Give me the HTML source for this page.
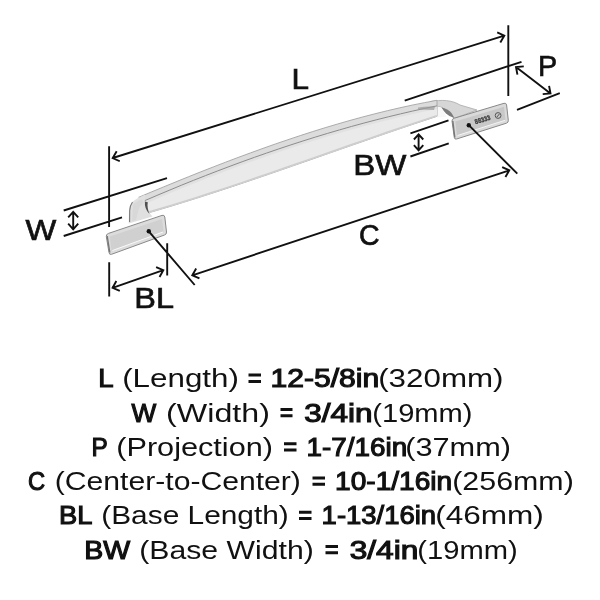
<!DOCTYPE html>
<html><head><meta charset="utf-8">
<style>
html,body{margin:0;padding:0;background:#fff;width:600px;height:600px;overflow:hidden}
svg{display:block;position:absolute;left:0;top:0;will-change:transform}
.b{font-family:"Liberation Sans",sans-serif;font-weight:bold;fill:#111}
.r{font-family:"Liberation Sans",sans-serif;font-weight:normal;fill:#111}
</style></head><body>
<svg width="600" height="600" viewBox="0 0 600 600">
<path d="M430,101.6 C442,99.5 452,100 460,105 L477,110 L454,118.5 Q448,110.5 442,107.5 L436,106 Z" fill="#d6d6d6" stroke="#a8a8a8" stroke-width="0.8"/>
<path d="M441,107.3 Q448,109 451.5,113 L454.5,118 Q449,116.5 446,113.5 Q443,110.5 441,107.3 Z" fill="#7c7c7c"/>
<path d="M436,106.2 L441.5,107.4 Q444,112 446.5,117 L437,117.5 Z" fill="#f8f8f8"/>
<path d="M138.7,197.30 L151.1,192.09 L163.6,186.92 L176.0,181.82 L188.4,176.79 L200.8,171.83 L213.3,166.95 L225.7,162.16 L238.1,157.46 L250.6,152.86 L263.0,148.36 L275.4,143.98 L287.9,139.72 L300.3,135.59 L312.7,131.59 L325.1,127.73 L337.6,124.01 L350.0,120.44 L362.4,117.04 L374.9,113.80 L387.3,110.73 L399.7,107.84 L412.1,105.14 L424.6,102.63 L437.0,100.31 L437,105.85 L437,116.33 L437.0,116.33 L425.0,120.30 L412.9,124.31 L400.9,128.38 L388.8,132.49 L376.8,136.63 L364.8,140.80 L352.7,144.99 L340.7,149.19 L328.6,153.41 L316.6,157.62 L304.5,161.83 L292.5,166.03 L280.5,170.21 L268.4,174.36 L256.4,178.48 L244.3,182.56 L232.3,186.59 L220.2,190.57 L208.2,194.49 L196.2,198.35 L184.1,202.14 L172.1,205.84 L160.0,209.46 L148.0,212.98 L144.7,200.67 Z" fill="#dcdcdc" stroke="#a4a4a4" stroke-width="0.9"/>
<path d="M144.7,200.67 L156.9,195.45 L169.1,190.33 L181.2,185.31 L193.4,180.40 L205.6,175.58 L217.8,170.87 L230.0,166.26 L242.1,161.77 L254.3,157.38 L266.5,153.10 L278.7,148.94 L290.9,144.89 L303.0,140.96 L315.2,137.14 L327.4,133.45 L339.6,129.87 L351.7,126.42 L363.9,123.09 L376.1,119.89 L388.3,116.82 L400.5,113.88 L412.6,111.07 L424.8,108.39 L437.0,105.85 L437,116.33 L437.0,116.33 L425.0,120.30 L412.9,124.31 L400.9,128.38 L388.8,132.49 L376.8,136.63 L364.8,140.80 L352.7,144.99 L340.7,149.19 L328.6,153.41 L316.6,157.62 L304.5,161.83 L292.5,166.03 L280.5,170.21 L268.4,174.36 L256.4,178.48 L244.3,182.56 L232.3,186.59 L220.2,190.57 L208.2,194.49 L196.2,198.35 L184.1,202.14 L172.1,205.84 L160.0,209.46 L148.0,212.98 Z" fill="#eaeaea"/>
<clipPath id="fc"><path d="M144.7,200.67 L156.9,195.45 L169.1,190.33 L181.2,185.31 L193.4,180.40 L205.6,175.58 L217.8,170.87 L230.0,166.26 L242.1,161.77 L254.3,157.38 L266.5,153.10 L278.7,148.94 L290.9,144.89 L303.0,140.96 L315.2,137.14 L327.4,133.45 L339.6,129.87 L351.7,126.42 L363.9,123.09 L376.1,119.89 L388.3,116.82 L400.5,113.88 L412.6,111.07 L424.8,108.39 L437.0,105.85 L437,116.33 L437.0,116.33 L425.0,120.30 L412.9,124.31 L400.9,128.38 L388.8,132.49 L376.8,136.63 L364.8,140.80 L352.7,144.99 L340.7,149.19 L328.6,153.41 L316.6,157.62 L304.5,161.83 L292.5,166.03 L280.5,170.21 L268.4,174.36 L256.4,178.48 L244.3,182.56 L232.3,186.59 L220.2,190.57 L208.2,194.49 L196.2,198.35 L184.1,202.14 L172.1,205.84 L160.0,209.46 L148.0,212.98 Z"/></clipPath>
<path d="M144.7,200.67 L156.9,195.45 L169.1,190.33 L181.2,185.31 L193.4,180.40 L205.6,175.58 L217.8,170.87 L230.0,166.26 L242.1,161.77 L254.3,157.38 L266.5,153.10 L278.7,148.94 L290.9,144.89 L303.0,140.96 L315.2,137.14 L327.4,133.45 L339.6,129.87 L351.7,126.42 L363.9,123.09 L376.1,119.89 L388.3,116.82 L400.5,113.88 L412.6,111.07 L424.8,108.39 L437.0,105.85 " fill="none" stroke="#dedede" stroke-width="6" clip-path="url(#fc)" opacity="0.8"/>
<path d="M437.0,116.33 L425.0,120.30 L412.9,124.31 L400.9,128.38 L388.8,132.49 L376.8,136.63 L364.8,140.80 L352.7,144.99 L340.7,149.19 L328.6,153.41 L316.6,157.62 L304.5,161.83 L292.5,166.03 L280.5,170.21 L268.4,174.36 L256.4,178.48 L244.3,182.56 L232.3,186.59 L220.2,190.57 L208.2,194.49 L196.2,198.35 L184.1,202.14 L172.1,205.84 L160.0,209.46 L148.0,212.98 " fill="none" stroke="#cdcdcd" stroke-width="3" clip-path="url(#fc)"/>
<path d="M144.7,200.67 L156.9,195.45 L169.1,190.33 L181.2,185.31 L193.4,180.40 L205.6,175.58 L217.8,170.87 L230.0,166.26 L242.1,161.77 L254.3,157.38 L266.5,153.10 L278.7,148.94 L290.9,144.89 L303.0,140.96 L315.2,137.14 L327.4,133.45 L339.6,129.87 L351.7,126.42 L363.9,123.09 L376.1,119.89 L388.3,116.82 L400.5,113.88 L412.6,111.07 L424.8,108.39 L437.0,105.85 " fill="none" stroke="#8c8c8c" stroke-width="1"/>
<path d="M418,107.5 Q428,106 435,106.8 L434,110 Q426,109.5 418,109.5 Z" fill="#9a9a9a" opacity="0.7"/>
<path d="M128.7,223.5 L129,210.3 Q129.8,202.5 137.5,198.2 L145.0,194.65 L144.7,201.7 Q146,210 152.5,216.5 Z" fill="#e0e0e0"/>
<path d="M129.6,222 L129.7,210.5 Q130.2,205 132.5,202" fill="none" stroke="#777" stroke-width="1.1"/>
<path d="M144.9,201.5 Q144.3,209 149.5,214 Q146.8,207 147.8,202.2 Z" fill="#505050"/>
<path d="M133,205 Q136,201 142,199.5 L143.5,203 Q140,204.5 138,212 L136,220 L132,221 Z" fill="#d2d2d2" opacity="0.6"/>
<!-- left plate -->
<path d="M108.5,233.4 L162,215.4 Q164.4,214.6 164.8,217 L166.5,232 Q166.8,234.3 164.5,235 L111.5,254.3 Q109.3,255 109,252.6 L106.3,236.5 Q106,234.2 108.5,233.4 Z" fill="#dcdcdc" stroke="#888" stroke-width="1"/>
<path d="M109.8,236.5 L162,219 L163.6,232 L111.5,250.8 Z" fill="#d0d0d0"/>
<path d="M112.5,250.5 L163,232" stroke="#fafafa" stroke-width="1" fill="none"/>
<path d="M107.2,236 L109.8,252.5" stroke="#777" stroke-width="1.4" fill="none"/>
<circle cx="148.8" cy="231.3" r="2.2" fill="#111"/>
<!-- right plate -->
<path d="M454.3,118.2 L504,103.3 Q506.2,102.7 506.6,105 L508.3,120.3 Q508.6,122.5 506.4,123.2 L456.6,139 Q454.6,139.6 454.3,137.5 L452,121 Q451.8,118.9 454.3,118.2 Z" fill="#dadada" stroke="#888" stroke-width="1"/>
<path d="M455.3,121.6 L504,106.7 L505.5,120.2 L457,135.6 Z" fill="#c8c8c8"/>
<path d="M457.5,135.5 L505,120.3" stroke="#f4f4f4" stroke-width="1" fill="none"/>
<path d="M452.8,121 L454.8,137.5" stroke="#777" stroke-width="1.4" fill="none"/>
<circle cx="468.8" cy="125.2" r="2.2" fill="#111"/>
<text x="0" y="0" transform="translate(475.6,124.3) rotate(-17)" font-family="Liberation Sans" font-weight="bold" font-size="6.8" fill="#3e3e3e" stroke="#3e3e3e" stroke-width="0.35" textLength="16" lengthAdjust="spacingAndGlyphs">88333</text>
<circle cx="498.1" cy="115.5" r="2.9" fill="none" stroke="#555" stroke-width="1"/>
<path d="M496.9,117 L499.4,114" stroke="#555" stroke-width="1"/>
<path d="M112.70,158.00 L504.30,35.70 M119.79,161.25 L112.70,158.00 L116.68,151.29 M497.21,32.45 L504.30,35.70 L500.32,42.41 M109.10,146.30 L109.10,227.00 M109.20,262.20 L109.20,296.60 M508.30,25.30 L508.30,96.00 M63.70,210.50 L167.00,178.20 M63.70,236.00 L122.00,217.40 M73.20,211.80 L73.20,229.30 M68.18,217.37 L73.20,211.80 L78.22,217.37 M78.22,223.73 L73.20,229.30 L68.18,223.73 M404.70,100.60 L521.50,61.80 M517.00,109.80 L559.80,93.20 M516.00,67.00 L550.50,93.50 M517.42,74.67 L516.00,67.00 L523.78,66.39 M549.08,85.83 L550.50,93.50 L542.72,94.11 M410.40,133.30 L448.50,120.40 M410.40,156.50 L448.75,143.30 M418.60,134.30 L418.60,150.40 M413.92,139.50 L418.60,134.30 L423.28,139.50 M423.28,145.20 L418.60,150.40 L413.92,145.20 M192.30,275.30 L509.30,170.30 M199.44,278.43 L192.30,275.30 L196.16,268.52 M502.16,167.17 L509.30,170.30 L505.44,177.08 M148.80,231.30 L194.70,285.00 M468.80,125.20 L517.30,173.70 M167.20,243.30 L167.20,275.60 M112.60,287.80 L163.30,270.10 M119.79,290.82 L112.60,287.80 L116.35,280.96 M156.11,267.08 L163.30,270.10 L159.55,276.94 " fill="none" stroke="#111" stroke-width="1.9" stroke-linejoin="miter" stroke-linecap="butt"/>
<text class="r" x="291.40" y="89.2" font-size="30" stroke="#111" stroke-width="0.7" textLength="17.52" lengthAdjust="spacingAndGlyphs">L</text>
<text class="r" x="537.89" y="75.9" font-size="30" stroke="#111" stroke-width="0.7" textLength="19.12" lengthAdjust="spacingAndGlyphs">P</text>
<text class="r" x="25.47" y="240.3" font-size="30" stroke="#111" stroke-width="0.7" textLength="30.77" lengthAdjust="spacingAndGlyphs">W</text>
<text class="r" x="353.31" y="175.4" font-size="30" stroke="#111" stroke-width="0.7" textLength="53.03" lengthAdjust="spacingAndGlyphs">BW</text>
<text class="r" x="359.05" y="245.2" font-size="30" stroke="#111" stroke-width="0.7" textLength="20.59" lengthAdjust="spacingAndGlyphs">C</text>
<text class="r" x="134.34" y="308.3" font-size="30" stroke="#111" stroke-width="0.7" textLength="39.73" lengthAdjust="spacingAndGlyphs">BL</text>
<text class="r" x="98.36" y="387.2" font-size="25.2" stroke="#111" stroke-width="1.1" textLength="15.33" lengthAdjust="spacingAndGlyphs">L</text>
<text class="r" x="122.19" y="387.2" font-size="26" textLength="116.73" lengthAdjust="spacingAndGlyphs">(Length)</text>
<path d="M248.50,373.60 h12.50 v3 h-12.50 Z M248.50,379.90 h12.50 v3 h-12.50 Z" fill="#111"/>
<text class="r" x="270.51" y="387.2" font-size="25.2" stroke="#111" stroke-width="1.1" textLength="108.72" lengthAdjust="spacingAndGlyphs">12-5/8in</text>
<text class="r" x="378.19" y="387.2" font-size="26" textLength="125.33" lengthAdjust="spacingAndGlyphs">(320mm)</text>
<text class="r" x="131.52" y="421.5" font-size="25.2" stroke="#111" stroke-width="1.1" textLength="24.73" lengthAdjust="spacingAndGlyphs">W</text>
<text class="r" x="166.14" y="421.5" font-size="26" textLength="103.75" lengthAdjust="spacingAndGlyphs">(Width)</text>
<path d="M280.50,407.90 h12.00 v3 h-12.00 Z M280.50,414.20 h12.00 v3 h-12.00 Z" fill="#111"/>
<text class="r" x="304.19" y="421.5" font-size="25.2" stroke="#111" stroke-width="1.1" textLength="68.22" lengthAdjust="spacingAndGlyphs">3/4in</text>
<text class="r" x="372.32" y="421.5" font-size="26" textLength="100.23" lengthAdjust="spacingAndGlyphs">(19mm)</text>
<text class="r" x="91.55" y="455.8" font-size="25.2" stroke="#111" stroke-width="1.1" textLength="16.23" lengthAdjust="spacingAndGlyphs">P</text>
<text class="r" x="116.23" y="455.8" font-size="26" textLength="156.76" lengthAdjust="spacingAndGlyphs">(Projection)</text>
<path d="M284.00,442.20 h12.50 v3 h-12.50 Z M284.00,448.50 h12.50 v3 h-12.50 Z" fill="#111"/>
<text class="r" x="306.62" y="455.8" font-size="25.2" stroke="#111" stroke-width="1.1" textLength="100.52" lengthAdjust="spacingAndGlyphs">1-7/16in</text>
<text class="r" x="405.23" y="455.8" font-size="26" textLength="105.82" lengthAdjust="spacingAndGlyphs">(37mm)</text>
<text class="r" x="28.10" y="490.1" font-size="25.2" stroke="#111" stroke-width="1.1" textLength="17.10" lengthAdjust="spacingAndGlyphs">C</text>
<text class="r" x="54.76" y="490.1" font-size="26" textLength="246.16" lengthAdjust="spacingAndGlyphs">(Center-to-Center)</text>
<path d="M312.50,476.50 h12.50 v3 h-12.50 Z M312.50,482.80 h12.50 v3 h-12.50 Z" fill="#111"/>
<text class="r" x="335.11" y="490.1" font-size="25.2" stroke="#111" stroke-width="1.1" textLength="117.04" lengthAdjust="spacingAndGlyphs">10-1/16in</text>
<text class="r" x="452.25" y="490.1" font-size="26" textLength="121.52" lengthAdjust="spacingAndGlyphs">(256mm)</text>
<text class="r" x="58.98" y="524.4" font-size="25.2" stroke="#111" stroke-width="1.1" textLength="33.36" lengthAdjust="spacingAndGlyphs">BL</text>
<text class="r" x="101.28" y="524.4" font-size="26" textLength="187.53" lengthAdjust="spacingAndGlyphs">(Base Length)</text>
<path d="M299.00,510.80 h12.50 v3 h-12.50 Z M299.00,517.10 h12.50 v3 h-12.50 Z" fill="#111"/>
<text class="r" x="321.64" y="524.4" font-size="25.2" stroke="#111" stroke-width="1.1" textLength="114.49" lengthAdjust="spacingAndGlyphs">1-13/16in</text>
<text class="r" x="435.18" y="524.4" font-size="26" textLength="108.72" lengthAdjust="spacingAndGlyphs">(46mm)</text>
<text class="r" x="84.30" y="558.6" font-size="25.2" stroke="#111" stroke-width="1.1" textLength="45.94" lengthAdjust="spacingAndGlyphs">BW</text>
<text class="r" x="139.26" y="558.6" font-size="26" textLength="174.50" lengthAdjust="spacingAndGlyphs">(Base Width)</text>
<path d="M325.50,545.00 h12.50 v3 h-12.50 Z M325.50,551.30 h12.50 v3 h-12.50 Z" fill="#111"/>
<text class="r" x="349.69" y="558.6" font-size="25.2" stroke="#111" stroke-width="1.1" textLength="68.73" lengthAdjust="spacingAndGlyphs">3/4in</text>
<text class="r" x="417.32" y="558.6" font-size="26" textLength="100.43" lengthAdjust="spacingAndGlyphs">(19mm)</text>
</svg>
</body></html>
